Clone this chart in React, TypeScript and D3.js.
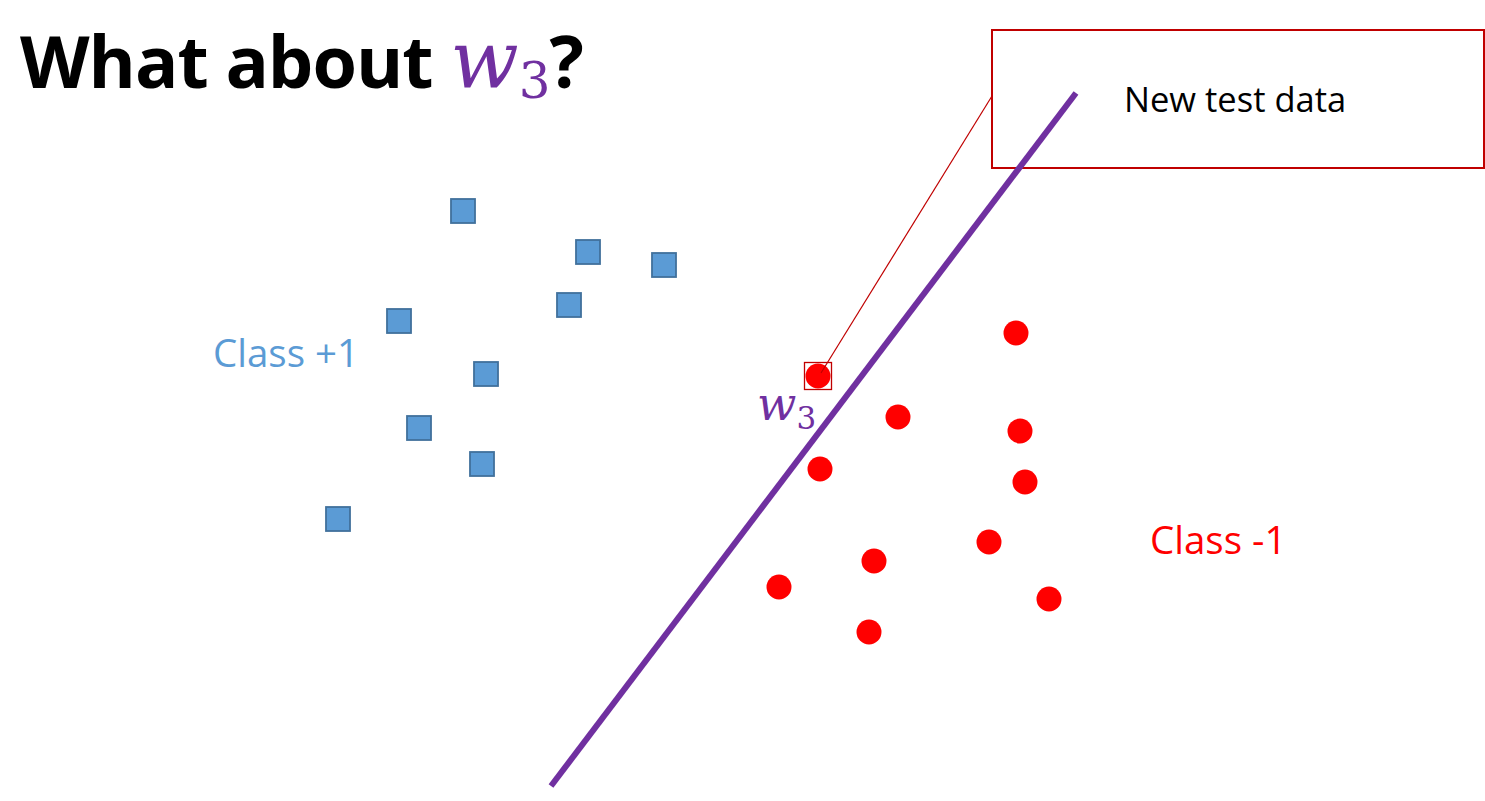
import * as d3 from "d3";

// feature space: x1 in [0, 148.5], x2 in [0, 80.1]
const CLASS_POS_X1 = [46.3, 58.8, 66.4, 56.9, 39.9, 48.6, 41.9, 48.2, 33.8];
const CLASS_POS_X2 = [59.0, 54.9, 53.6, 49.6, 48.0, 42.7, 37.3, 33.7, 28.2];

const CLASS_NEG_X1 = [101.6, 89.8, 102.0, 82.0, 102.5, 98.9, 87.4, 77.9, 104.9, 86.9];
const CLASS_NEG_X2 = [46.8, 38.4, 37.0, 33.2, 31.9, 25.9, 24.0, 21.4, 20.2, 16.9];

const TEST_X1 = [81.8];
const TEST_X2 = [42.5];

const W3_X1 = [107.6, 55.1];
const W3_X2 = [70.8, 1.5];

const WIDTH = 1485;
const HEIGHT = 801;

const BLUE = "#5B9BD5";
const BLUE_DARK = "#41719C";
const RED = "#FF0000";
const DARK_RED = "#C00000";
const PURPLE = "#7030A0";
const SANS = "'Open Sans', 'Noto Sans', sans-serif";
const MATH = "'DejaVu Serif', 'Liberation Serif', serif";

export default function App() {
  const x = d3.scaleLinear().domain([0, 148.5]).range([0, WIDTH]);
  const y = d3.scaleLinear().domain([0, 80.1]).range([HEIGHT, 0]);

  const squares = d3.zip(CLASS_POS_X1, CLASS_POS_X2);
  const dots = d3.zip(CLASS_NEG_X1, CLASS_NEG_X2);
  const test = d3.zip(TEST_X1, TEST_X2);
  const w3 = d3.zip(W3_X1, W3_X2);

  const line = d3
    .line<number[]>()
    .x((d) => x(d[0]))
    .y((d) => y(d[1]));

  const sq = 24;
  const r = 12.5;
  const tx = x(test[0][0]);
  const ty = y(test[0][1]);

  return (
    <svg
      width={WIDTH}
      height={HEIGHT}
      style={{ position: "absolute", left: 0, top: 0, background: "#fff" }}
    >
      <text
        x={20}
        y={88}
        fontFamily={SANS}
        fontWeight={700}
        fontSize={72}
        letterSpacing={-1}
        fill="#000"
      >
        What about{" "}
        <tspan
          fontFamily={MATH}
          fontStyle="italic"
          fill={PURPLE}
          fontWeight={400}
          fontSize={80}
          letterSpacing={0}
        >
          w
        </tspan>
        <tspan fontFamily={MATH} fill={PURPLE} fontWeight={400} fontSize={50} dy={10}>
          3
        </tspan>
        <tspan dy={-10}>?</tspan>
      </text>

      <rect
        x={992}
        y={30}
        width={492}
        height={138}
        fill="none"
        stroke={DARK_RED}
        strokeWidth={2}
      />
      <text x={1124} y={112} fontFamily={SANS} fontSize={34.5} fill="#000">
        New test data
      </text>

      <path d={line(w3) ?? ""} stroke={PURPLE} strokeWidth={6} fill="none" />

      {squares.map((d, i) => (
        <rect
          key={`s${i}`}
          x={x(d[0]) - sq / 2}
          y={y(d[1]) - sq / 2}
          width={sq}
          height={sq}
          fill={BLUE}
          stroke={BLUE_DARK}
          strokeWidth={1.8}
        />
      ))}

      {dots.map((d, i) => (
        <circle key={`c${i}`} cx={x(d[0])} cy={y(d[1])} r={r} fill={RED} />
      ))}

      <circle cx={tx} cy={ty} r={r} fill={RED} />
      <rect
        x={tx - 13.5}
        y={ty - 13.5}
        width={27}
        height={27}
        fill="none"
        stroke={DARK_RED}
        strokeWidth={1.3}
      />
      <line x1={992} y1={96} x2={tx + 3} y2={ty - 3} stroke={DARK_RED} strokeWidth={1.2} />

      <text x={213} y={367} fontFamily={SANS} fontSize={38.5} fill={BLUE}>
        Class +1
      </text>
      <text x={1150} y={554} fontFamily={SANS} fontSize={38.5} fill={RED}>
        Class -1
      </text>

      <text x={757} y={420} fontFamily={MATH} fill={PURPLE}>
        <tspan fontStyle="italic" fontSize={46}>
          w
        </tspan>
        <tspan fontSize={31} dy={9}>
          3
        </tspan>
      </text>
    </svg>
  );
}
